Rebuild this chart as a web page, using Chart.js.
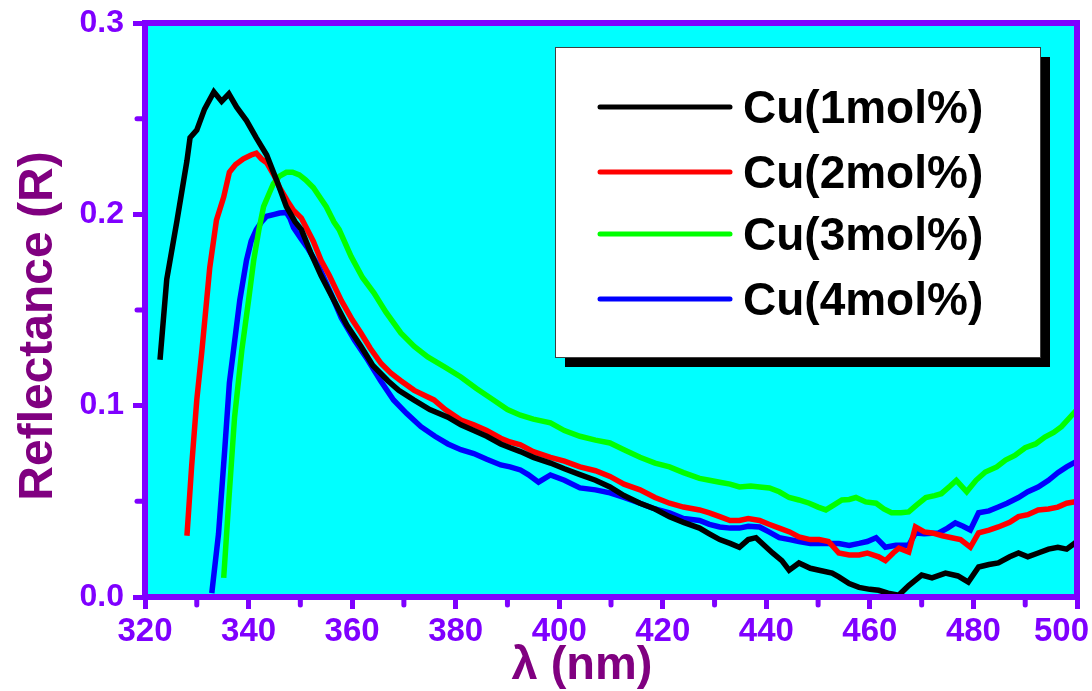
<!DOCTYPE html>
<html>
<head>
<meta charset="utf-8">
<script src="https://cdn.jsdelivr.net/npm/chart.js@4.4.1/dist/chart.umd.min.js"></script>
<style>
  html, body { margin: 0; padding: 0; background: #ffffff; }
  #chart { display: block; }
</style>
</head>
<body>
<canvas id="chart" width="1092" height="691"></canvas>
<script>
// Reflectance spectra
const xTicks = [320, 340, 360, 380, 400, 420, 440, 460, 480, 500];
const yTicks = [0.0, 0.1, 0.2, 0.3];
const seriesNames = ['Cu(1mol%)', 'Cu(2mol%)', 'Cu(3mol%)', 'Cu(4mol%)'];
const seriesColors = ['#000000', '#ff0000', '#00ff00', '#0000ff'];

const cu1X = [322.9, 324.2, 326.2, 328.1, 328.7, 330.0, 331.5, 333.3, 334.8, 336.2, 337.7, 339.6, 341.5, 343.5, 345.4, 347.3, 349.0, 350.2, 352.0, 354.0, 356.5, 359.0, 361.7, 364.0, 366.9, 369.0, 371.9, 375.0, 378.5, 381.0, 383.5, 386.0, 388.7, 390.5, 392.5, 395.0, 398.3, 401.0, 404.0, 407.0, 409.8, 412.5, 415.6, 418.5, 421.3, 424.0, 427.1, 429.0, 431.0, 433.0, 434.8, 436.5, 438.0, 441.2, 443.0, 444.4, 446.3, 448.5, 450.2, 452.7, 454.0, 456.0, 457.9, 460.0, 461.7, 463.5, 465.6, 467.5, 470.0, 472.0, 474.6, 477.0, 479.0, 481.0, 483.0, 484.8, 487.0, 488.7, 490.5, 492.5, 494.5, 496.3, 498.0, 500.0];
const cu1Y = [0.124, 0.166, 0.197, 0.228, 0.240, 0.244, 0.255, 0.264, 0.259, 0.263, 0.256, 0.249, 0.240, 0.231, 0.218, 0.204, 0.196, 0.192, 0.180, 0.168, 0.155, 0.142, 0.131, 0.121, 0.113, 0.108, 0.103, 0.098, 0.094, 0.090, 0.087, 0.084, 0.080, 0.078, 0.076, 0.073, 0.070, 0.067, 0.064, 0.061, 0.0575, 0.053, 0.049, 0.046, 0.042, 0.039, 0.036, 0.033, 0.030, 0.028, 0.026, 0.030, 0.031, 0.023, 0.019, 0.014, 0.0178, 0.015, 0.014, 0.0125, 0.0105, 0.007, 0.005, 0.004, 0.0035, 0.002, 0.001, 0.006, 0.0115, 0.010, 0.0125, 0.011, 0.0078, 0.0157, 0.017, 0.0178, 0.021, 0.023, 0.021, 0.023, 0.025, 0.026, 0.025, 0.029];

const cu2X = [328.1, 329.0, 330.0, 331.0, 332.5, 333.8, 335.2, 336.3, 337.5, 339.0, 340.5, 341.5, 342.5, 343.5, 345.0, 346.0, 347.5, 348.7, 350.2, 352.5, 354.0, 355.6, 357.9, 360.0, 361.7, 363.5, 365.6, 367.5, 369.4, 372.0, 375.8, 378.0, 381.0, 383.5, 386.0, 388.7, 390.5, 392.5, 395.0, 398.3, 401.0, 404.0, 407.0, 409.8, 412.5, 415.6, 418.5, 421.3, 424.0, 427.1, 429.0, 431.0, 433.0, 434.8, 436.5, 438.7, 440.5, 442.5, 444.5, 446.3, 448.5, 450.2, 452.0, 454.0, 456.0, 457.9, 459.5, 461.7, 463.0, 464.5, 465.6, 467.5, 468.8, 470.5, 472.0, 474.0, 475.8, 477.5, 479.4, 481.0, 483.0, 484.8, 487.0, 488.7, 490.5, 492.5, 494.5, 496.3, 498.0, 500.0];
const cu2Y = [0.032, 0.068, 0.103, 0.129, 0.172, 0.197, 0.209, 0.222, 0.226, 0.229, 0.231, 0.232, 0.229, 0.227, 0.220, 0.214, 0.207, 0.202, 0.198, 0.186, 0.176, 0.168, 0.155, 0.145, 0.138, 0.130, 0.122, 0.117, 0.113, 0.108, 0.103, 0.098, 0.0925, 0.090, 0.087, 0.083, 0.081, 0.0795, 0.076, 0.073, 0.071, 0.068, 0.066, 0.063, 0.059, 0.056, 0.052, 0.049, 0.047, 0.0455, 0.044, 0.042, 0.040, 0.040, 0.041, 0.040, 0.038, 0.036, 0.034, 0.0314, 0.030, 0.030, 0.029, 0.023, 0.022, 0.022, 0.023, 0.021, 0.019, 0.023, 0.0255, 0.0235, 0.0366, 0.034, 0.0335, 0.032, 0.031, 0.030, 0.026, 0.0335, 0.035, 0.0366, 0.039, 0.042, 0.043, 0.0455, 0.046, 0.047, 0.049, 0.050];

const cu3X = [335.2, 336.2, 337.3, 338.7, 340.0, 341.0, 342.0, 342.9, 344.0, 344.8, 346.0, 347.3, 348.5, 349.8, 351.0, 352.5, 354.0, 355.0, 356.5, 357.5, 359.8, 362.0, 364.2, 366.5, 369.4, 372.0, 374.6, 378.0, 381.0, 384.0, 387.3, 390.0, 392.5, 395.0, 398.3, 401.0, 404.0, 407.0, 409.8, 412.5, 415.6, 418.5, 421.3, 424.0, 427.1, 429.0, 431.0, 433.0, 434.8, 437.0, 438.7, 440.6, 442.5, 444.4, 446.3, 448.3, 450.0, 451.5, 453.0, 454.6, 456.0, 457.3, 459.2, 461.2, 462.7, 464.2, 466.0, 467.5, 469.0, 470.8, 472.5, 473.8, 475.5, 476.7, 478.7, 480.5, 482.3, 484.5, 486.2, 488.0, 490.0, 492.0, 493.8, 495.5, 497.0, 499.0, 500.0];
const cu3Y = [0.010, 0.051, 0.094, 0.129, 0.155, 0.176, 0.192, 0.204, 0.211, 0.216, 0.220, 0.222, 0.222, 0.2206, 0.218, 0.214, 0.208, 0.204, 0.196, 0.192, 0.178, 0.167, 0.159, 0.149, 0.138, 0.131, 0.1255, 0.120, 0.115, 0.109, 0.103, 0.098, 0.095, 0.093, 0.091, 0.087, 0.084, 0.082, 0.0805, 0.077, 0.073, 0.070, 0.068, 0.065, 0.062, 0.061, 0.060, 0.059, 0.0575, 0.058, 0.0575, 0.057, 0.055, 0.052, 0.0507, 0.049, 0.047, 0.0455, 0.048, 0.0507, 0.051, 0.052, 0.0497, 0.049, 0.046, 0.044, 0.044, 0.0445, 0.048, 0.052, 0.053, 0.054, 0.058, 0.061, 0.055, 0.061, 0.0653, 0.068, 0.0716, 0.074, 0.078, 0.080, 0.0836, 0.086, 0.089, 0.095, 0.098];

const cu4X = [332.9, 334.2, 335.4, 336.3, 337.1, 338.3, 339.6, 340.5, 341.5, 342.5, 343.5, 345.0, 346.0, 347.3, 348.0, 348.7, 350.2, 351.5, 353.7, 356.0, 357.9, 360.5, 363.0, 365.5, 368.0, 370.5, 373.3, 376.0, 378.5, 381.0, 383.5, 386.0, 388.7, 390.5, 392.5, 394.0, 396.0, 398.3, 401.0, 404.0, 407.0, 409.8, 412.5, 415.6, 418.5, 421.3, 424.0, 427.1, 429.0, 431.0, 433.0, 434.8, 436.5, 438.7, 440.5, 442.5, 444.5, 446.3, 448.5, 450.2, 452.0, 454.0, 456.0, 457.9, 459.5, 461.2, 463.0, 465.0, 467.5, 468.8, 470.5, 473.3, 475.0, 476.5, 478.0, 479.4, 481.0, 483.0, 484.8, 486.5, 488.7, 490.5, 492.5, 494.5, 496.3, 498.0, 500.0];
const cu4Y = [0.002, 0.033, 0.077, 0.112, 0.129, 0.155, 0.176, 0.186, 0.192, 0.196, 0.199, 0.200, 0.2007, 0.201, 0.198, 0.193, 0.187, 0.182, 0.172, 0.158, 0.146, 0.134, 0.124, 0.113, 0.103, 0.096, 0.089, 0.084, 0.080, 0.077, 0.075, 0.072, 0.069, 0.068, 0.0664, 0.064, 0.060, 0.0638, 0.061, 0.057, 0.056, 0.0544, 0.052, 0.049, 0.046, 0.044, 0.041, 0.040, 0.038, 0.0366, 0.036, 0.036, 0.037, 0.0366, 0.034, 0.031, 0.030, 0.029, 0.028, 0.028, 0.028, 0.028, 0.027, 0.028, 0.029, 0.031, 0.026, 0.027, 0.027, 0.0335, 0.033, 0.0335, 0.036, 0.0387, 0.037, 0.035, 0.044, 0.045, 0.047, 0.049, 0.052, 0.055, 0.0575, 0.061, 0.065, 0.068, 0.071];

const allX = [cu1X, cu2X, cu3X, cu4X];
const allY = [cu1Y, cu2Y, cu3Y, cu4Y];

const AXIS_PURPLE = '#7f00ff';
const TITLE_PURPLE = '#800080';
const FONT = '"Liberation Sans", Arial, sans-serif';

const datasets = seriesNames.map((name, i) => ({
    label: name,
    data: allX[i].map((x, j) => ({ x: x, y: allY[i][j] })),
    borderColor: seriesColors[i],
    borderWidth: 5.5,
    pointRadius: 0,
    tension: 0,
    fill: false
}));

// cyan plot background, frame, minor ticks, axis titles and legend box
const decorations = {
    id: 'decorations',
    beforeDraw(chart) {
        const { ctx, chartArea: a } = chart;
        ctx.save();
        ctx.fillStyle = '#00ffff';
        ctx.fillRect(a.left, a.top, a.right - a.left, a.bottom - a.top);
        ctx.restore();
    },
    afterDatasetsDraw(chart) {
        const { ctx, chartArea: a, scales } = chart;
        ctx.save();
        ctx.strokeStyle = AXIS_PURPLE;
        ctx.lineWidth = 6;
        ctx.strokeRect(a.left, a.top, a.right - a.left, a.bottom - a.top);

        // minor ticks
        ctx.lineWidth = 5;
        ctx.lineCap = 'round';
        for (let v = 330; v < 500; v += 20) {
            const px = scales.x.getPixelForValue(v);
            ctx.beginPath();
            ctx.moveTo(px, a.bottom);
            ctx.lineTo(px, a.bottom + 8);
            ctx.stroke();
        }
        [0.05, 0.15, 0.25].forEach(v => {
            const py = scales.y.getPixelForValue(v);
            ctx.beginPath();
            ctx.moveTo(a.left, py);
            ctx.lineTo(a.left - 8, py);
            ctx.stroke();
        });

        // x tick labels, last one kept inside the canvas
        ctx.fillStyle = AXIS_PURPLE;
        ctx.font = 'bold 33px ' + FONT;
        ctx.textAlign = 'center';
        ctx.textBaseline = 'alphabetic';
        xTicks.forEach(v => {
            const label = String(v);
            const half = ctx.measureText(label).width / 2;
            let px = scales.x.getPixelForValue(v);
            if (px + half > chart.width - 3) px = chart.width - 3 - half;
            ctx.fillText(label, px, a.bottom + 44);
        });

        // axis titles
        ctx.fillStyle = TITLE_PURPLE;
        ctx.font = 'bold 48px ' + FONT;
        ctx.save();
        ctx.translate(52, 326);
        ctx.rotate(-Math.PI / 2);
        ctx.fillText('Reflectance (R)', 0, 0);
        ctx.restore();
        ctx.font = 'bold 47px ' + FONT;
        ctx.fillText('\u03bb (nm)', 582, 679);
        ctx.restore();
    },
    afterDraw(chart) {
        const { ctx } = chart;
        const box = { x: 555, y: 47, w: 485, h: 310 };
        ctx.save();
        ctx.fillStyle = '#000000';
        ctx.fillRect(box.x + 10, box.y + 10, box.w, box.h);
        ctx.fillStyle = '#ffffff';
        ctx.fillRect(box.x, box.y, box.w, box.h);
        ctx.strokeStyle = '#404040';
        ctx.lineWidth = 1;
        ctx.strokeRect(box.x + 0.5, box.y + 0.5, box.w, box.h);

        const rows = [107, 172, 234, 299];
        ctx.font = 'bold 46px ' + FONT;
        ctx.textAlign = 'left';
        ctx.textBaseline = 'alphabetic';
        chart.data.datasets.forEach((ds, i) => {
            ctx.strokeStyle = ds.borderColor;
            ctx.lineWidth = 5;
            ctx.lineCap = 'round';
            ctx.beginPath();
            ctx.moveTo(600, rows[i]);
            ctx.lineTo(730, rows[i]);
            ctx.stroke();
            ctx.fillStyle = '#000000';
            ctx.fillText(ds.label, 743, rows[i] + 16);
        });
        ctx.restore();
    }
};

new Chart(document.getElementById('chart'), {
    type: 'line',
    data: { datasets: datasets },
    plugins: [decorations],
    options: {
        responsive: false,
        animation: false,
        devicePixelRatio: 1,
        layout: { padding: { top: 23, right: 15, left: 0, bottom: 0 } },
        plugins: {
            legend: { display: false },
            tooltip: { enabled: false }
        },
        scales: {
            x: {
                type: 'linear',
                min: 320,
                max: 500,
                afterFit(scale) {
                    scale.height = 94;
                    scale.paddingLeft = 0;
                    scale.paddingRight = 0;
                },
                afterBuildTicks(scale) { scale.ticks = xTicks.map(v => ({ value: v })); },
                ticks: { display: false },
                grid: {
                    drawOnChartArea: false,
                    drawTicks: true,
                    tickLength: 12,
                    tickWidth: 5,
                    color: AXIS_PURPLE
                },
                border: { display: true, color: AXIS_PURPLE, width: 6 }
            },
            y: {
                min: 0,
                max: 0.3,
                afterFit(scale) {
                    scale.width = 145;
                    scale.paddingTop = 0;
                    scale.paddingBottom = 0;
                },
                afterBuildTicks(scale) { scale.ticks = yTicks.map(v => ({ value: v })); },
                ticks: {
                    color: AXIS_PURPLE,
                    font: { family: FONT, size: 32, weight: 'bold' },
                    padding: 9,
                    callback: v => Number(v).toFixed(1)
                },
                grid: {
                    drawOnChartArea: false,
                    drawTicks: true,
                    tickLength: 12,
                    tickWidth: 5,
                    color: AXIS_PURPLE
                },
                border: { display: true, color: AXIS_PURPLE, width: 6 }
            }
        }
    }
});
</script>
</body>
</html>
